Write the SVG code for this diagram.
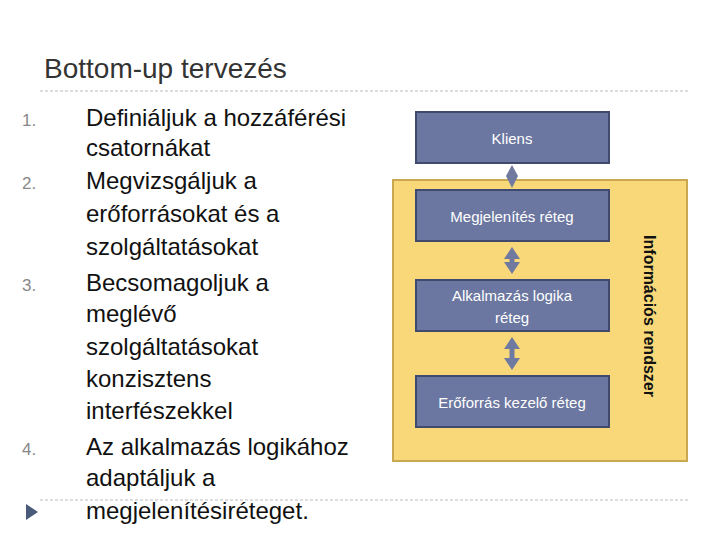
<svg xmlns="http://www.w3.org/2000/svg" width="720" height="540" viewBox="0 0 720 540">
<style>
text{font-family:"Liberation Sans",Arial,sans-serif}
.b{fill:#6b77a0;stroke:#404a6e;stroke-width:2}
.bt{fill:#fff;font-size:15px;text-anchor:middle}
.li{font-size:24px;fill:#111}
.n{font-size:17px;fill:#888}
.c{stroke:#707aa0;stroke-width:5;fill:none}
</style>
<defs><marker id="a" markerUnits="userSpaceOnUse" markerWidth="16" markerHeight="16" refX="6" refY="8" orient="auto-start-reverse"><path d="M0,0L12,8L0,16Z" fill="#707aa0"/></marker></defs>
<rect width="720" height="540" fill="#fff"/>
<text x="44" y="78" font-size="28" fill="#333">Bottom-up tervezés</text>
<line x1="40" y1="91" x2="688" y2="91" stroke="#bbb" stroke-dasharray="3,2"/>
<line x1="40" y1="500" x2="688" y2="500" stroke="#bbb" stroke-dasharray="3,2"/>
<text class="n" x="22" y="126">1.</text>
<text class="n" x="22" y="189">2.</text>
<text class="n" x="22" y="291">3.</text>
<text class="n" x="22" y="455">4.</text>
<g class="li">
<text x="86" y="126">Definiáljuk a hozzáférési</text>
<text x="86" y="156">csatornákat</text>
<text x="86" y="189">Megvizsgáljuk a</text>
<text x="86" y="222">erőforrásokat és a</text>
<text x="86" y="255">szolgáltatásokat</text>
<text x="86" y="291">Becsomagoljuk a</text>
<text x="86" y="322">meglévő</text>
<text x="86" y="355">szolgáltatásokat</text>
<text x="86" y="387">konzisztens</text>
<text x="86" y="419">interfészekkel</text>
<text x="86" y="455">Az alkalmazás logikához</text>
<text x="86" y="486">adaptáljuk a</text>
<text x="86" y="519">megjelenítésiréteget.</text>
</g>
<path d="M26,504L38,512L26,520Z" fill="#4a5a7a"/>
<g id="rendszer"><rect x="393" y="180" width="294" height="281" fill="#f8d878" stroke="#c8a850" stroke-width="2"/>
<text x="0" y="0" font-size="16" font-weight="bold" fill="#111" text-anchor="middle" transform="translate(644,316) rotate(90)">Információs rendszer</text></g>
<g id="kliens"><rect class="b" x="416" y="112" width="193" height="51"/><text class="bt" x="512" y="144">Kliens</text></g>
<g id="megj"><rect class="b" x="416" y="190" width="193" height="51"/><text class="bt" x="512" y="222">Megjelenítés réteg</text></g>
<g id="alk"><rect class="b" x="416" y="280" width="193" height="51"/><text class="bt" x="512" y="301">Alkalmazás logika</text><text class="bt" x="512" y="323">réteg</text></g>
<g id="ero"><rect class="b" x="416" y="376" width="193" height="51"/><text class="bt" x="512" y="408">Erőforrás kezelő réteg</text></g>
<g id="connectors">
<path d="M512,165L518,176L512,188L506,176Z" fill="#707aa0"/>
<path class="c" d="M512,253V268" marker-start="url(#a)" marker-end="url(#a)"/>
<path class="c" d="M512,343V364" marker-start="url(#a)" marker-end="url(#a)"/>
</g>
</svg>
